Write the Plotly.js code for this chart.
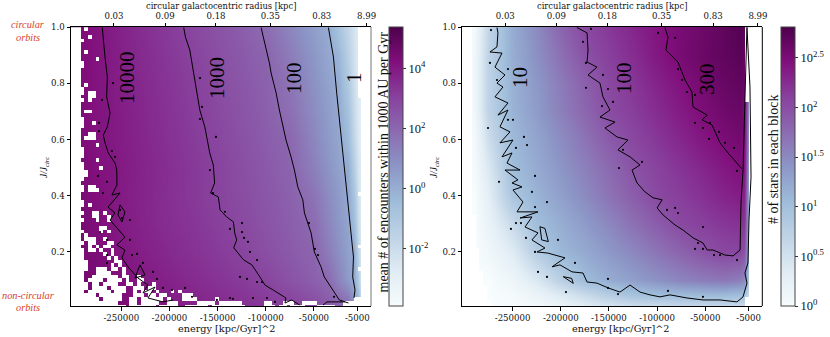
<!DOCTYPE html>
<html><head><meta charset="utf-8">
<script src="https://cdn.plot.ly/plotly-3.0.1.min.js"></script>
<style>html,body{margin:0;padding:0;background:#fff}#c{width:830px;height:337px}</style></head>
<body><div id="c"></div>
<script>
// ---- energy in thousands of (kpc/Gyr)^2, J/Jcirc on y, colour value = log10 ----
const jRowsL = [0,0.1,0.2,0.3,0.4,0.5,0.6,0.7,0.8,0.9,1.0];
const energyColsL = [-300,-275,-250,-225,-200,-175,-150,-125,-100,-75,-50,-35,-25,-15,-8,-4,0];
const encountersLog = [
[4.6,4.5,4.4,4.14,3.97,3.79,3.62,3.45,3.28,3.1,2.78,2.44,2.22,2,0.7,0,-2],
[4.6,4.4,4.2,3.95,3.76,3.56,3.36,3.17,2.94,2.57,2.21,1.93,1.27,0.6,0.13,-1.1,-3],
[4.55,4.3,4.02,3.81,3.6,3.4,3.19,2.98,2.67,2.36,2.05,1.44,0.92,0.41,0.05,-1.5,-3],
[4.5,4.25,3.93,3.72,3.49,3.3,3.09,2.84,2.55,2.26,1.9,1.2,0.74,0.28,-0.5,-1.9,-3],
[4.45,4.2,3.93,3.69,3.46,3.23,3,2.73,2.46,2.18,1.66,1.02,0.6,0.17,-0.8,-2.1,-3],
[4.45,4.2,3.95,3.71,3.47,3.23,2.99,2.69,2.39,2.08,1.33,0.78,0.41,0.04,-1.3,-2.3,-3],
[4.4,4.12,3.89,3.65,3.41,3.17,2.91,2.61,2.3,2,1.14,0.62,0.28,-0.5,-1.7,-2.5,-3],
[4.4,4.13,3.88,3.62,3.37,3.11,2.83,2.52,2.22,1.78,0.98,0.51,0.19,-0.7,-1.9,-2.6,-3],
[4.4,4.1,3.84,3.58,3.32,3.06,2.76,2.46,2.16,1.63,0.84,0.38,0.06,-1.1,-2.1,-2.7,-3],
[4.4,4.1,3.81,3.53,3.26,2.98,2.68,2.37,2.07,1.43,0.69,0.24,-0.2,-1.4,-2.2,-2.7,-3],
[4.4,4.1,3.76,3.47,3.18,2.875,2.56,2.25,1.86,1.17,0.47,0.06,-0.75,-1.7,-2.36,-2.74,-3]];

const jRowsR = [0,0.05,0.1,0.2,0.3,0.4,0.5,0.6,0.7,0.8,0.9,1.0];
const energyColsR = [-300,-290,-275,-250,-225,-200,-175,-150,-125,-100,-75,-50,-30,-15,-9,-6,-3,0];
const starsLog = [
[0,0,0,0,0.05,0.15,0.3,0.4,0.5,0.5,0.55,0.55,0.55,0.5,0.5,0.3,0.1,0],
[0,0,0,0.05,0.2,0.4,0.62,0.83,0.98,1.05,1.08,1.1,1.1,1.05,1,0.7,0.3,0],
[0,0,0,0.15,0.4,0.75,1.05,1.2,1.32,1.44,1.55,1.62,1.66,1.6,1.5,1.1,0.5,0],
[0,0,0.1,0.35,0.8,1.09,1.23,1.38,1.53,1.68,1.82,1.97,2.05,2.05,1.95,1.4,0.6,0],
[0,0,0.2,0.6,1.02,1.18,1.36,1.53,1.71,1.88,2.04,2.12,2.18,2.22,2.17,1.5,0.6,0],
[0,0,0.3,0.9,1.13,1.31,1.5,1.69,1.87,2.04,2.13,2.23,2.31,2.36,2.3,1.6,0.7,0],
[0,0.05,0.4,1.03,1.21,1.4,1.59,1.77,1.96,2.09,2.2,2.31,2.4,2.46,2.4,1.7,0.7,0],
[0,0.05,0.55,1.07,1.27,1.48,1.69,1.9,2.05,2.18,2.3,2.42,2.5,2.55,2.48,1.8,0.8,0],
[0,0.1,0.7,1.13,1.35,1.58,1.8,2.01,2.13,2.26,2.38,2.5,2.58,2.62,2.55,1.8,0.8,0],
[0,0.1,0.7,1.15,1.38,1.62,1.85,2.05,2.18,2.32,2.45,2.56,2.63,2.68,2.62,1.9,0.9,0],
[0,0.1,0.7,1.19,1.45,1.71,1.97,2.12,2.25,2.4,2.53,2.62,2.68,2.72,2.68,2,0.9,0],
[0,0.05,0.66,1.2,1.49,1.8,2.04,2.17,2.3,2.43,2.52,2.6,2.68,2.75,2.72,2,0.9,0]];

// empty blocks of the left panel ('#'), one string per block row from the top
const emptyBlocksL = [
"###.#","###.","###..#","####","###","###","###.#","###","###....#","####","####","###","###","###","###",
"###.#","####","####.##","###..##","####.#","###","###","###.##","###","####","####..#","####","###","###..##",
"###.###","###","###....#","####","####","####","###....#","####","####....#","#####","#####","####","###",
"####.##","####.###","###","###","####","####.#","###","####..##.#","###...##..#","####...#..#","###",
"###.....##","####....#.#","###.#","###.###..#","####.##...##","###..#.#.##","####.##.#..#",
"####.....#.#","####......#.#","#####.......##","#####......#.#","#####..###.##.#","####...####...#",
"####..#######.##..#","####.####.####.#..##","#####.##.####..##.#...#","#####.####.####..###.##",
"####.######.###..#.###.#...#.#","#######.######...###.##.##....###",
"########.#####..##.######.#...####.....#",
"#############...##.#####..###.....#####.######......##...###..####",
"###############.#######.#####..######.#########.....###.##.####...#####"];
const edgeColL = [77,77,77,77,77,77,77,77,77,77,77,77,77,77,77,77,77,77,77,78,78,78,78,78,78,78,78,78,78,78,78,78,78,78,78,78,78,78,78,78,78,78,78,78,77,78,78,78,78,78,78,78,78,78,78,78,78,78,77,78,78,78,78,78,77,78,78,78,78,78,78,78,76,73,73];
const edgeColR = [76,76,76,76,76,76,76,76,76,76,76,76,76,76,76,76,76,76,76,76,77,77,77,77,77,77,77,77,77,77,77,77,77,77,77,77,77,77,77,77,77,77,77,77,77,77,77,77,77,77,77,77,77,77,77,77,77,77,77,77,77,77,77,77,77,77,77,77,77,77,77,77,76,76,76];
const startColR = [3,3,3,3,3,3,3,3,3,3,3,3,3,3,3,3,3,3,3,3,3,3,3,3,3,3,3,3,3,3,3,3,3,3,3,3,3,3,3,3,3,3,3,3,3,3,3,3,3,3,4,4,4,4,4,4,4,4,4,5,5,5,5,5,5,6,6,6,6,7,7,7,7,8,8];
const blockEnergyStart = -301.9, blockEnergyStep = 3.89, blockJTop = 0.99332, blockJStep = 0.01337;

// contour lines: energy (thousands) and J/Jcirc
const L4e=[-269.7,-268.7,-266.9,-264.5,-265.2,-261.7,-264.5,-268.7,-266.9,-263.5,-256.5,-254.7,-254.5,-259.7,-251.3,-263.8,-256.5,-261.7,-254.5,-246.2,-254.5,-246.2,-249.3,-243,-232.7,-222.3,-227.5,-215,-222.3,-206.7,-196.3,null,-251.3,-246.2,-249.3,-253.4,-251.3,null,-230.6,-225.4,-235.8,-230.6];
const L4j=[0.999,0.955,0.894,0.823,0.752,0.694,0.645,0.616,0.588,0.552,0.516,0.491,0.438,0.402,0.409,0.359,0.338,0.313,0.284,0.252,0.224,0.206,0.178,0.146,0.106,0.081,0.053,0.074,0.035,0.021,0.028,null,0.367,0.342,0.306,0.331,0.367,null,0.153,0.117,0.106,0.153];
const L3e=[-185.2,-183.4,-178.9,-177.1,-173.7,-170.1,-168.5,-163.3,-159.8,-158.2,-154.5,-154.2,-153.1,-157.3,-149.2,-147.5,-140.6,-133.6,-132.3,-130.2,-133.3,-123.1,-114.5,-106.1,-100.9,-92.2,-85.3,-79.1,-80.1,-73.2,-64.9,null,-40.6,-36.5,-28,-17.8];
const L3j=[0.999,0.965,0.919,0.883,0.823,0.741,0.705,0.645,0.588,0.552,0.509,0.481,0.445,0.409,0.395,0.349,0.324,0.306,0.267,0.242,0.214,0.171,0.153,0.11,0.081,0.063,0.049,0.035,0.017,0.028,0.01,null,0.01,0.021,0.021,0.021];
const L2e=[-104.9,-99.7,-96.2,-94.5,-89.3,-85.9,-82.4,-79,-73.8,-70.3,-66.8,-61.6,-59.9,-53,-49.6,-42.7,-39.3,-32.3,-23.7,-14.2];
const L2j=[0.999,0.929,0.872,0.837,0.766,0.705,0.645,0.598,0.538,0.491,0.431,0.385,0.338,0.267,0.199,0.146,0.11,0.074,0.028,0.017];
const L0e=[-35,-29.8,-26.4,-22.2,-17.8,-16,-12.6,-9,-9.8,-7.4,-8.5];
const L0j=[0.999,0.894,0.766,0.623,0.491,0.42,0.288,0.181,0.11,0.064,0.035];
const R1e=[-266.2,-265.2,-266.2,-273.5,-261,-268.3,-257.9,-266.2,-260,-268.3,-254.8,-265.2,-254.8,-263.1,-252.7,-263.1,-249.6,-261,-250.6,-255.8,-242.3,-257.9,-244.4,-250.6,-240.2,-249.6,-239.2,-245.4,-223.6,-242.3,-229.9,-237.1,-223.6,-229.9,-216.4,-224.7,-213.3,-195.6,-209.1,-200.8,-188.3,-176.9,-172.7,-162.4,-150.9,-138.5,-128.1,-117.7,-107.4,-97,-86.6,-69,-52.4,-34.7,-17.1,-10.8,-6.7,-8.8,-5.7,-4.6,-2.5,-3.6,-6.7,null,-197.4,-188.7,-187,-192.2,-197.4,null,-221.6,-216.4,-212.9,-219.8,-221.6];
const R1j=[0.999,0.98,0.93,0.912,0.908,0.858,0.83,0.801,0.787,0.752,0.73,0.687,0.705,0.645,0.627,0.588,0.598,0.538,0.552,0.516,0.491,0.491,0.456,0.445,0.431,0.42,0.377,0.342,0.342,0.32,0.324,0.288,0.267,0.242,0.213,0.199,0.195,0.178,0.146,0.153,0.128,0.124,0.092,0.088,0.071,0.056,0.081,0.056,0.046,0.039,0.046,0.035,0.028,0.028,0.021,0.039,0.088,0.124,0.16,0.313,0.466,0.787,0.999,null,0.111,0.105,0.087,0.099,0.111,null,0.289,0.283,0.236,0.242,0.289];
const R2e=[-183.2,-172.7,-171.7,-172.7,-162.4,-171.7,-159.3,-156.2,-148.9,-159.3,-143.7,-154.1,-141.6,-130.2,-140.6,-128.1,-117.7,-126,-122.9,-120.8,-112.5,-104.1,-94.8,-100,-93.8,-81.3,-73,-62.5,-52.4,-48,-41.9,-29.5,-21.2,-13.9,-12.9,-10.8,-7.7,-6.7];
const R2j=[0.999,0.98,0.919,0.876,0.858,0.83,0.801,0.752,0.705,0.68,0.662,0.641,0.609,0.598,0.563,0.538,0.509,0.491,0.463,0.445,0.413,0.392,0.385,0.356,0.331,0.295,0.277,0.249,0.231,0.206,0.206,0.188,0.185,0.206,0.374,0.491,0.883,0.999];
const R3e=[-91.8,-88.7,-90.8,-78.3,-71,-63.8,-62.7,-48,-53.3,-43,-34.7,-26.4,-17.1,-11.9];
const R3j=[0.999,0.965,0.919,0.876,0.812,0.769,0.716,0.687,0.67,0.652,0.588,0.552,0.516,0.495];

// isolated contour specks
const dotsLe=[-168.3,-166.2,-168.3,-151.7,-258.6,-270,-273.1,-273.1,-256.5,-259.7,-158,-154.8,-142.4,-183.9,-227.5,-238.9,-233.7,-241,-241,-251.3,-249.3,-272.1,-264.8,-264.8,-264.8,-269,-264.8,-274.2,-217.1,-213,-206.7,-197.4,-176.6,-150.7,-137.2,-124.7,-124.7,-137.2,-122.6,-118.5,-116.4,-109.1,-126.8,-119.5,-109.1,-104,-113.3,-134.1,-98.8,-90.5,-55.2,-49,-45.8,-29.2];
const dotsLj=[0.819,0.716,0.673,0.609,0.801,0.741,0.659,0.63,0.538,0.559,0.491,0.409,0.342,0.071,0.16,0.188,0.192,0.242,0.313,0.349,0.32,0.27,0.242,0.188,0.16,0.409,0.449,0.47,0.128,0.103,0.071,0.063,0.039,0.028,0.035,0.302,0.27,0.281,0.249,0.235,0.199,0.17,0.11,0.103,0.092,0.092,0.035,0.032,0.035,0.021,0.302,0.21,0.188,0.039];
const dotsRe=[-272.4,-254.8,-273.5,-266.2,-275.5,-254.8,-249.6,-238.2,-235,-246.5,-168.6,-176.9,-173.8,-173.8,-156.2,-151,-145.8,-157.2,-139.6,-135.4,-264.1,-226.7,-229.9,-214.3,-226.7,-246.5,-241.3,-251.7,-236.1,-226.7,-202.9,-223.6,-214.3,-194.6,-185.2,-151,-140.6,-151,-99,-81.3,-78.3,-74,-68.9,-60.6,-60.6,-52.4,-45.1,-46.1,-35.7,-29.5,-20.1,-115.7,-89.7,-81.3,-78.3,-52.4,-57.6,-60.6,-52.4,-40.9,-34.7,-52.4,-88.7,-17.1,-17.1];
const dotsRj=[0.99,0.851,0.873,0.812,0.641,0.67,0.67,0.609,0.58,0.57,0.994,0.948,0.873,0.784,0.83,0.78,0.734,0.719,0.498,0.563,0.449,0.47,0.413,0.377,0.359,0.302,0.302,0.281,0.249,0.199,0.242,0.128,0.11,0.056,0.16,0.103,0.049,0.071,0.98,0.962,0.851,0.812,0.769,0.759,0.659,0.641,0.659,0.602,0.627,0.588,0.57,0.52,0.349,0.356,0.338,0.288,0.231,0.21,0.21,0.188,0.188,0.039,0.06,0.488,0.17];

const energyTicks=[-250,-200,-150,-100,-50,-5];
const energyTickText=["-250000","-200000","-150000","-100000","-50000","-5000"];
const radiusTicks=[-257.6,-204.6,-151.7,-95.3,-41.9,4.7];
const radiusTickText=["0.03","0.09","0.18","0.35","0.83","8.99"];
const jTicks=[0.2,0.4,0.6,0.8,1.0];
const cbTicksL=[-2,0,2,4];
const cbTextL=["10<sup>-2</sup>","10<sup>0</sup>","10<sup>2</sup>","10<sup>4</sup>"];
const cbTicksR=[0,0.5,1,1.5,2,2.5];
const cbTextR=["10<sup>0</sup>","10<sup>0.5</sup>","10<sup>1</sup>","10<sup>1.5</sup>","10<sup>2</sup>","10<sup>2.5</sup>"];

const BuPu=[[0,'#f7fcfd'],[0.125,'#e0ecf4'],[0.25,'#bfd3e6'],[0.375,'#9ebcda'],[0.5,'#8c96c6'],[0.625,'#8c6bb1'],[0.75,'#88419d'],[0.875,'#810f7c'],[1,'#4d004b']];
const W=830,H=337;
const px=v=>v/W, py=v=>1-v/H;
const SER='"DejaVu Serif",serif', TIM='"Liberation Serif",serif';

function blocks(rows,edge,start){
  const z=[],xs=[],ys=[];
  for(let c=0;c<82;c++) xs.push(blockEnergyStart+c*blockEnergyStep);
  for(let r=0;r<75;r++){
    ys.push(blockJTop-r*blockJStep);
    const row=[];
    for(let c=0;c<82;c++){
      const s=rows?rows[r]||"":"";
      const e=(s[c]==='#')||c>=edge[r]||(start&&c<start[r]);
      row.push(e?1:null);
    }
    z.push(row);
  }
  return {type:'heatmap',x:xs,y:ys,z:z,zmin:0,zmax:1,showscale:false,hoverinfo:'skip',
    colorscale:[[0,'#ffffff'],[1,'#ffffff']]};
}
function line(x,y,xa,ya){return {type:'scatter',mode:'lines',x:x,y:y,xaxis:xa,yaxis:ya,line:{color:'#000',width:1},hoverinfo:'skip',connectgaps:false,showlegend:false};}
function dots(x,y,xa,ya){return {type:'scatter',mode:'markers',x:x,y:y,xaxis:xa,yaxis:ya,marker:{color:'#000',size:2.2},hoverinfo:'skip',showlegend:false};}
function cb(xpx,vals,text){return {x:px(xpx),xanchor:'left',thickness:14.4,thicknessmode:'pixels',len:279/H,lenmode:'fraction',y:py(306),yanchor:'bottom',ypad:0,xpad:0,
  outlinecolor:'#444',outlinewidth:1,tickmode:'array',tickvals:vals,ticktext:text,ticks:'outside',ticklen:3,tickcolor:'#333',tickwidth:1,tickfont:{family:TIM,size:12.5,color:'#111'}};}

const topL=blocks(emptyBlocksL,edgeColL); topL.xaxis='x';topL.yaxis='y';
const topR=blocks(null,edgeColR,startColR); topR.xaxis='x2';topR.yaxis='y2';

const data=[
 {type:'heatmap',x:energyColsL,y:jRowsL,z:encountersLog,zsmooth:'best',colorscale:BuPu,zmin:-3.9,zmax:5.37,xaxis:'x',yaxis:'y',colorbar:cb(389.3,cbTicksL,cbTextL),hoverinfo:'skip'},
 topL,
 {type:'heatmap',x:energyColsR,y:jRowsR,z:starsLog,zsmooth:'best',colorscale:BuPu,zmin:0,zmax:2.81,xaxis:'x2',yaxis:'y2',colorbar:cb(781,cbTicksR,cbTextR),hoverinfo:'skip'},
 topR,
 line(L4e,L4j,'x','y'),line(L3e,L3j,'x','y'),line(L2e,L2j,'x','y'),line(L0e,L0j,'x','y'),dots(dotsLe,dotsLj,'x','y'),
 line(R1e,R1j,'x2','y2'),line(R2e,R2j,'x2','y2'),line(R3e,R3j,'x2','y2'),dots(dotsRe,dotsRj,'x2','y2'),
 {type:'scatter',mode:'markers',x:radiusTicks,y:radiusTicks.map(()=>0.5),xaxis:'x3',yaxis:'y',marker:{opacity:0},hoverinfo:'skip',showlegend:false},
 {type:'scatter',mode:'markers',x:radiusTicks,y:radiusTicks.map(()=>0.5),xaxis:'x4',yaxis:'y2',marker:{opacity:0},hoverinfo:'skip',showlegend:false}
];
const xr=[-302.2,9.2];
const xbase={range:xr,showgrid:false,zeroline:false,showline:true,linecolor:'#000',linewidth:1,ticks:'outside',ticklen:3.5,tickcolor:'#000',tickmode:'array',tickfont:{family:SER,size:8.6,color:'#111'}};
const ybase={range:[0.0064,1.001],showgrid:false,zeroline:false,showline:true,linecolor:'#000',linewidth:1,ticks:'outside',ticklen:3.5,tickcolor:'#000',tickmode:'array',tickvals:jTicks,ticktext:jTicks.map(v=>v.toFixed(1)),tickfont:{family:SER,size:8.6,color:'#111'}};
const d1=[px(71),px(371)], d2=[px(462.3),px(762.3)], dy=[py(306),py(27)];
const ann=(x,y,t,o)=>Object.assign({xref:'paper',yref:'paper',x:px(x),y:py(y),text:t,showarrow:false,xanchor:'center',yanchor:'middle',align:'center',borderpad:0},o||{});
const big={font:{family:TIM,size:21,color:'#000'},textangle:-90};
const small={font:{family:SER,size:8.4,color:'#111'}};
const bottomT={font:{family:SER,size:9.7,color:'#111'}};
const red={font:{family:TIM,size:10.3,color:'#d8432c'}};
const side={font:{family:TIM,size:14,color:'#111'},textangle:-90};
const jl={font:{family:TIM,size:9.5,color:'#111'},textangle:-90};
const layout={width:W,height:H,margin:{l:0,r:0,t:0,b:0},paper_bgcolor:'#fff',plot_bgcolor:'#fff',showlegend:false,
 xaxis:Object.assign({},xbase,{domain:d1,anchor:'y',tickvals:energyTicks,ticktext:energyTickText}),
 xaxis2:Object.assign({},xbase,{domain:d2,anchor:'y2',tickvals:energyTicks,ticktext:energyTickText}),
 xaxis3:Object.assign({},xbase,{overlaying:'x',side:'top',anchor:'y',tickvals:radiusTicks,ticktext:radiusTickText}),
 xaxis4:Object.assign({},xbase,{overlaying:'x2',side:'top',anchor:'y2',tickvals:radiusTicks,ticktext:radiusTickText}),
 yaxis:Object.assign({},ybase,{domain:dy,anchor:'x'}),
 yaxis2:Object.assign({},ybase,{domain:dy,anchor:'x2'}),
 shapes:[
  {type:'line',xref:'paper',yref:'paper',x0:px(371),x1:px(371),y0:py(306),y1:py(27),line:{color:'#777',width:1}},
  {type:'line',xref:'paper',yref:'paper',x0:px(762.3),x1:px(762.3),y0:py(306),y1:py(27),line:{color:'#000',width:1}}
 ],
 annotations:[
  ann(220.5,6,'circular galactocentric radius [kpc]',small),
  ann(612,6,'circular galactocentric radius [kpc]',small),
  ann(227,328,'energy [kpc/Gyr]^2',bottomT),
  ann(621,328,'energy [kpc/Gyr]^2',bottomT),
  ann(28,24,'<i>circular</i>',red),ann(28,37,'<i>orbits</i>',red),
  ann(28,295,'<i>non-circular</i>',red),ann(28,307,'<i>orbits</i>',red),
  ann(44,168,'<i>J/J<sub>circ</sub></i>',jl),ann(434,168,'<i>J/J<sub>circ</sub></i>',jl),
  ann(383,162.5,'mean # of encounters within 1000 AU per Gyr',side),
  ann(773,160,'# of stars in each block',side),
  ann(127,78,'10000',big),ann(217,78,'1000',big),ann(294,78,'100',big),ann(354,78,'1',big),
  ann(520,78,'10',big),ann(624,78,'100',big),ann(707,79,'300',big)
 ]};
Plotly.newPlot('c',data,layout,{displayModeBar:false,staticPlot:true});
</script></body></html>
